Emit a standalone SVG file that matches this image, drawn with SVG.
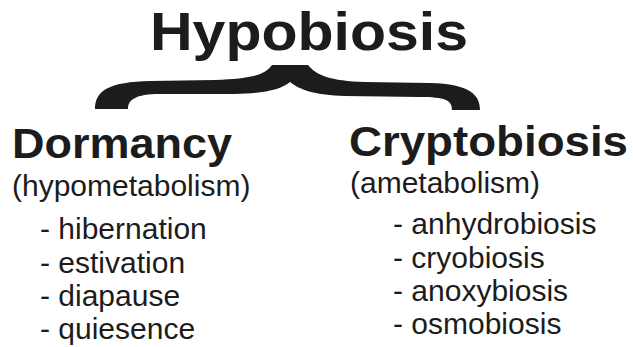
<svg xmlns="http://www.w3.org/2000/svg" width="633" height="347" viewBox="0 0 633 347">
<style>
.t{font-family:"Liberation Sans",Arial,sans-serif;fill:#1c1c1c}
.b{font-weight:bold}
.r{font-size:30px}
</style>
<rect width="633" height="347" fill="#ffffff"/>
<g id="hypobiosis">
<text class="t b" x="150" y="50" font-size="54" textLength="318" lengthAdjust="spacingAndGlyphs">Hypobiosis</text>
</g>
<g id="connectors">
<path d="M95,109 C95,90 110,82 150,81 L215,80 C250,79 265,75 272,65 L308,65 C316,75 330,81 365,82 L430,83 C470,84 480,95 480,110 L452,110 C452,100 445,97 420,97 L345,96 C315,95 300,90 290,82 C280,90 265,93 235,94 L160,94 C135,94 128,100 128,109 Z" fill="#1c1c1c"/>
</g>
<g id="dormancy">
<text class="t b" x="12" y="158" font-size="42" textLength="220" lengthAdjust="spacingAndGlyphs">Dormancy</text>
<text class="t r" x="12" y="196">(hypometabolism)</text>
<text class="t r" x="40" y="239">- hibernation</text>
<text class="t r" x="40" y="273">- estivation</text>
<text class="t r" x="40" y="306">- diapause</text>
<text class="t r" x="40" y="339">- quiesence</text>
</g>
<g id="cryptobiosis">
<text class="t b" x="349" y="156" font-size="43" textLength="279" lengthAdjust="spacingAndGlyphs">Cryptobiosis</text>
<text class="t r" x="350" y="193">(ametabolism)</text>
<text class="t r" x="393" y="234">- anhydrobiosis</text>
<text class="t r" x="393" y="268">- cryobiosis</text>
<text class="t r" x="393" y="301">- anoxybiosis</text>
<text class="t r" x="393" y="334">- osmobiosis</text>
</g>
</svg>
